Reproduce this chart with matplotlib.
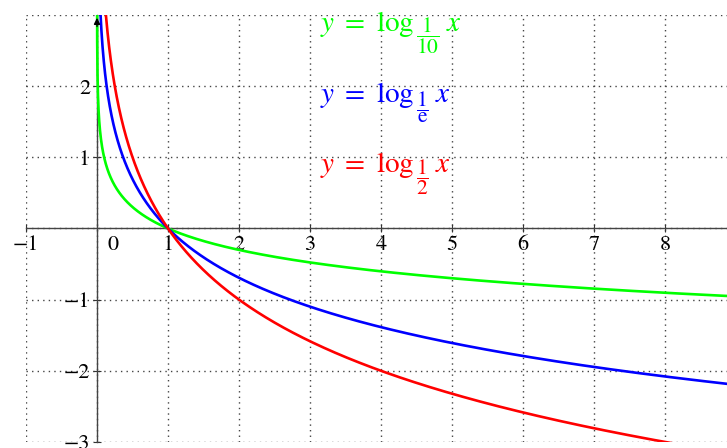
import numpy as np
import matplotlib
matplotlib.use("Agg")
import matplotlib.pyplot as plt
import matplotlib.transforms as mtransforms

plt.rcParams['font.family'] = ['STIXGeneral', 'DejaVu Serif']
plt.rcParams['mathtext.fontset'] = 'stix'

# bases of the three logarithms and how they are drawn
bases = [0.1, 1 / np.e, 0.5]
colores = ['#00ff00', '#0000ff', '#ff0000']
fracciones = [r'$\dfrac{1}{10}$', r'$\dfrac{1}{\mathrm{e}}$', r'$\dfrac{1}{2}$']
etiqueta_y = [2.78, 1.78, 0.79]

xticks = [-1, 0, 1, 2, 3, 4, 5, 6, 7, 8]
yticks = [-3, -2, -1, 1, 2]

fig = plt.figure(figsize=(7.27, 4.48), dpi=100)
ax = fig.add_axes([26 / 727, 6 / 448, 701 / 727, 427 / 448])
ax.set_xlim(-1, 8.87)
ax.set_ylim(-3, 3)

# grid de puntos en los enteros
for g in range(-1, 9):
    ax.axvline(g, color='#444444', lw=1.0, ls=(0, (1, 3)), zorder=1)
for g in range(-3, 4):
    ax.axhline(g, color='#444444', lw=1.0, ls=(0, (1, 3)), zorder=1)

x = np.linspace(1e-4, 8.87, 4000)
for b, c in zip(bases, colores):
    ax.plot(x, np.log(x) / np.log(b), color=c, lw=1.9, zorder=3, clip_on=True)

# etiquetas: "y = log", la base como fracción debajo de la línea base, y la x
for fr, c, yb in zip(fracciones, colores, etiqueta_y):
    t1 = ax.text(3.14, yb, r'$y\ =\ \log$', color=c, fontsize=21, ha='left', va='baseline')
    t2 = ax.annotate(fr, xy=(1, yb), xycoords=(t1, 'data'), xytext=(1.2, -3.5),
                     textcoords='offset points', color=c, fontsize=15.5, ha='left', va='center')
    ax.annotate(r'$x$', xy=(1, yb), xycoords=(t2, 'data'), xytext=(4.5, 0),
                textcoords='offset points', color=c, fontsize=21, ha='left', va='baseline')

# ejes cartesianos por el origen
for s in ['top', 'right']:
    ax.spines[s].set_visible(False)
ax.spines['left'].set_position(('data', 0))
ax.spines['bottom'].set_position(('data', 0))
for s in ['left', 'bottom']:
    ax.spines[s].set_color('#444444')
    ax.spines[s].set_linewidth(1.0)
    ax.spines[s].set_zorder(2)
ax.annotate('', xy=(0, 3.0), xytext=(0, 2.8),
            arrowprops=dict(arrowstyle='-|>', color='black', lw=1.0, mutation_scale=9))

ax.set_xticks(xticks)
ax.set_xticklabels(['\u2212' + str(-t) if t < 0 else str(t) for t in xticks])
ax.set_yticks(yticks)
ax.set_yticklabels(['\u2212' + str(-t) if t < 0 else str(t) for t in yticks])
ax.tick_params(direction='inout', length=6, width=0.8, color='#333333', labelsize=16)
ax.tick_params(axis='x', pad=2)
ax.tick_params(axis='y', pad=2)

# el 0 se corre a la derecha del eje y
for t in ax.get_xticklabels():
    if t.get_text() == '0':
        t.set_transform(t.get_transform() + mtransforms.ScaledTranslation(0.16, 0, fig.dpi_scale_trans))

fig.savefig('out.png', dpi=100)
